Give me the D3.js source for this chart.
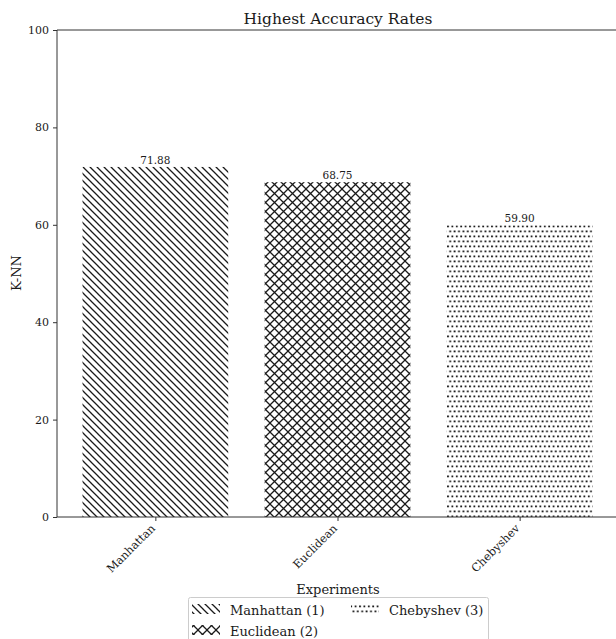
<!DOCTYPE html>
<html><head><meta charset="utf-8">
<script src="https://cdn.jsdelivr.net/npm/d3@7"></script>
<style>body{margin:0;background:#fff}svg{display:block}text{font-family:"DejaVu Serif",serif;fill:#1a1a1a}</style>
</head><body><svg id="c" width="616" height="639"></svg>
<script>
const categories = ["Manhattan", "Euclidean", "Chebyshev"];
const values = [71.88, 68.75, 59.90];
const legendLabels = ["Manhattan (1)", "Euclidean (2)", "Chebyshev (3)"];
const hatches = ["diag", "cross", "dots"];
const yTicks = [0, 20, 40, 60, 80, 100];

const svg = d3.select("#c");
const x = d3.scaleLinear().domain([-0.54, 2.54]).range([57, 618]);
const y = d3.scaleLinear().domain([0, 100]).range([517, 30]);
const bw = x(0.4) - x(-0.4);

const defs = svg.append("defs");
const ink = "#1a1a1a";
// diagonal "\\"
const d = 7;
const p1 = defs.append("pattern").attr("id","diag").attr("patternUnits","userSpaceOnUse").attr("width",d).attr("height",d);
p1.append("path").attr("d",`M-1,-1L${d+1},${d+1}M${-d-1},-1L1,${d+1}M${d-1},-1L${2*d+1},${d+1}`).attr("stroke",ink).attr("stroke-width",1.3);
// crosshatch
const s = 9;
const p2 = defs.append("pattern").attr("id","cross").attr("patternUnits","userSpaceOnUse").attr("width",s).attr("height",s);
p2.append("path").attr("d",`M-1,-1L${s+1},${s+1}M${s+1},-1L-1,${s+1}`).attr("stroke",ink).attr("stroke-width",1.3);
// dots
const p3 = defs.append("pattern").attr("id","dots").attr("patternUnits","userSpaceOnUse").attr("width",4.4).attr("height",10);
[[0.5,0.5],[2.7,5.5],[-1.7,5.5]].forEach(([a,b])=>p3.append("rect").attr("x",a).attr("y",b).attr("width",1.8).attr("height",1.8).attr("fill",ink));

// bars
svg.selectAll("rect.bar").data(values).enter().append("rect").attr("class","bar")
  .attr("x",(d,i)=>x(i)-bw/2).attr("y",d=>y(d)).attr("width",bw).attr("height",d=>y(0)-y(d))
  .attr("fill",(d,i)=>"url(#"+hatches[i]+")");

// value labels
svg.selectAll("text.val").data(values).enter().append("text")
  .attr("x",(d,i)=>x(i)).attr("y",d=>y(d)-3).attr("text-anchor","middle").attr("font-size",10.5)
  .text(d=>d.toFixed(2));

// axes
const yAxis = d3.axisLeft(y).tickValues(yTicks).tickSize(4).tickPadding(4);
const gy = svg.append("g").attr("transform","translate(57,0)").call(yAxis);
gy.selectAll("text").attr("font-size",11).style("font-family","DejaVu Serif");
const xAxis = d3.axisBottom(x).tickValues([0,1,2]).tickFormat(i=>categories[i]).tickSize(4).tickPadding(4);
const gx = svg.append("g").attr("transform","translate(0,517)").call(xAxis);
gx.select(".domain").remove();
gx.selectAll("text").attr("font-size",11.3).style("font-family","DejaVu Serif")
  .attr("text-anchor","end").attr("dy",0).attr("x",0).attr("y",0).attr("transform","translate(0,12) rotate(-45)");
svg.selectAll(".tick line").attr("stroke","#333");
gy.select(".domain").remove();
svg.append("line").attr("x1",57).attr("x2",620).attr("y1",517).attr("y2",517).attr("stroke","#333");
svg.append("line").attr("x1",57).attr("x2",620).attr("y1",30).attr("y2",30).attr("stroke","#333");
svg.append("line").attr("x1",57).attr("x2",57).attr("y1",30).attr("y2",517).attr("stroke","#333");

// titles
svg.append("text").attr("x",338).attr("y",24).attr("text-anchor","middle").attr("font-size",15.5).text("Highest Accuracy Rates");
svg.append("text").attr("x",338).attr("y",594).attr("text-anchor","middle").attr("font-size",13).text("Experiments");
svg.append("text").attr("transform","translate(21,273) rotate(-90)").attr("text-anchor","middle").attr("font-size",13).text("K-NN");

// legend
const lg = svg.append("g");
lg.append("rect").attr("x",188.5).attr("y",597.5).attr("width",300).attr("height",60).attr("rx",2)
  .attr("fill","#fff").attr("stroke","#ccc");
const pos = [[192,604],[192,625],[351,604]];
legendLabels.forEach((t,i)=>{
  lg.append("rect").attr("x",pos[i][0]).attr("y",pos[i][1]).attr("width",28).attr("height",10).attr("fill","url(#"+hatches[i]+")");
  lg.append("text").attr("x",pos[i][0]+38).attr("y",pos[i][1]+11).attr("font-size",13).text(t);
});
</script></body></html>
